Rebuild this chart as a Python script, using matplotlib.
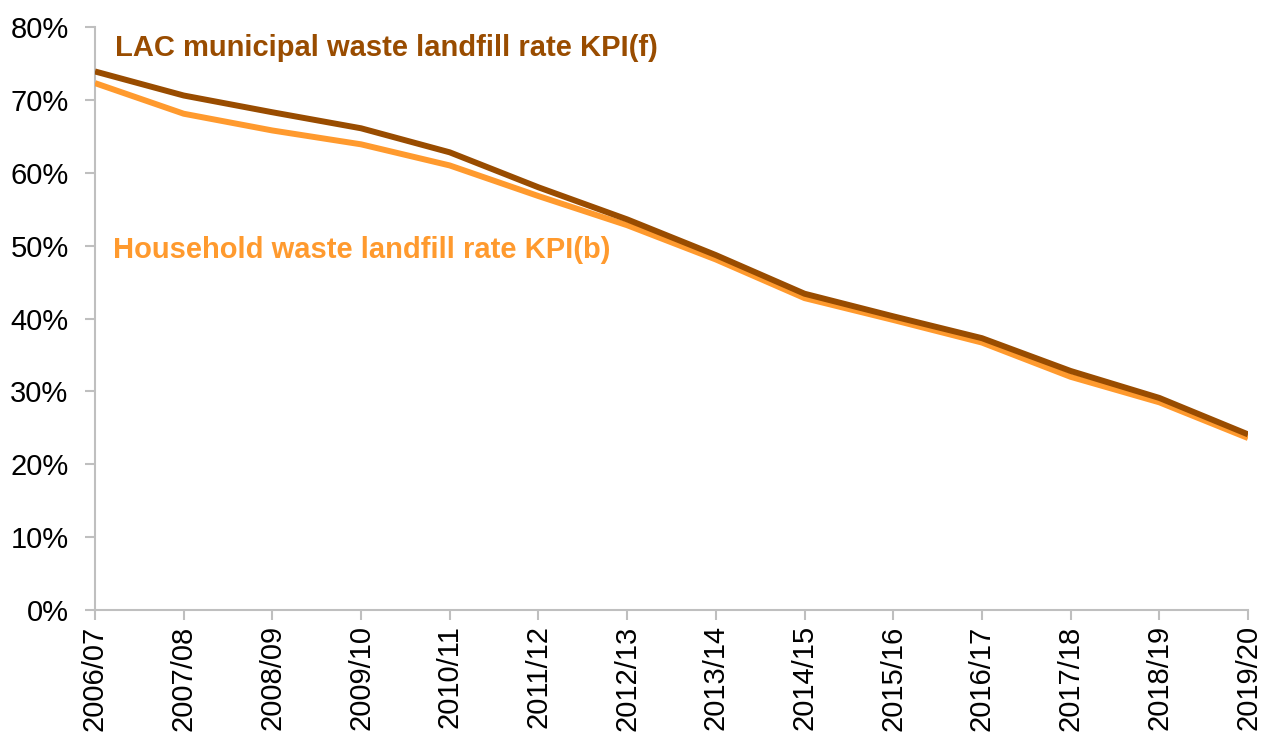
import matplotlib.pyplot as plt
from matplotlib.ticker import PercentFormatter

plt.rcParams['font.family'] = ['Liberation Sans', 'DejaVu Sans']

years = ["2006/07", "2007/08", "2008/09", "2009/10", "2010/11", "2011/12", "2012/13",
         "2013/14", "2014/15", "2015/16", "2016/17", "2017/18", "2018/19", "2019/20"]
lac_municipal = [73.9, 70.6, 68.3, 66.1, 62.8, 58.0, 53.6, 48.7, 43.4, 40.3, 37.3, 32.8, 29.1, 24.1]
household = [72.3, 68.1, 65.8, 63.9, 61.0, 56.8, 52.8, 48.1, 42.8, 39.8, 36.7, 32.0, 28.5, 23.6]

dark = "#994C00"
light = "#FF9A2E"
grey = "#BFBFBF"

fig = plt.figure(figsize=(12.61, 7.33), dpi=100)
ax = fig.add_axes([95 / 1261, 1 - 610 / 733, (1248 - 95) / 1261, (610 - 27) / 733])

x = list(range(len(years)))
ax.plot(x, household, color=light, lw=4.3, solid_capstyle="butt", zorder=3)
ax.plot(x, lac_municipal, color=dark, lw=4.3, solid_capstyle="butt", zorder=4)

ax.set_xlim(0, len(years) - 1)
ax.set_ylim(0, 80)
ax.set_yticks(range(0, 81, 10))
ax.yaxis.set_major_formatter(PercentFormatter(decimals=0))
ax.set_xticks(x)
ax.set_xticklabels(years, rotation=90)

for s in ["top", "right"]:
    ax.spines[s].set_visible(False)
for s in ["left", "bottom"]:
    ax.spines[s].set_color(grey)
    ax.spines[s].set_linewidth(1.5)
ax.tick_params(axis="both", colors=grey, length=7, width=1.5, labelcolor="black")
ax.tick_params(axis="x", pad=4, labelsize=21)
ax.tick_params(axis="y", pad=12, labelsize=21)

ax.text(115 / 1261, 1 - 48 / 733, "LAC municipal waste landfill rate KPI(f)",
        transform=fig.transFigure, color=dark, fontsize=21, fontweight="bold",
        va="center", ha="left")
ax.text(113 / 1261, 1 - 250 / 733, "Household waste landfill rate KPI(b)",
        transform=fig.transFigure, color=light, fontsize=21, fontweight="bold",
        va="center", ha="left")

fig.savefig("out.png", dpi=100)
